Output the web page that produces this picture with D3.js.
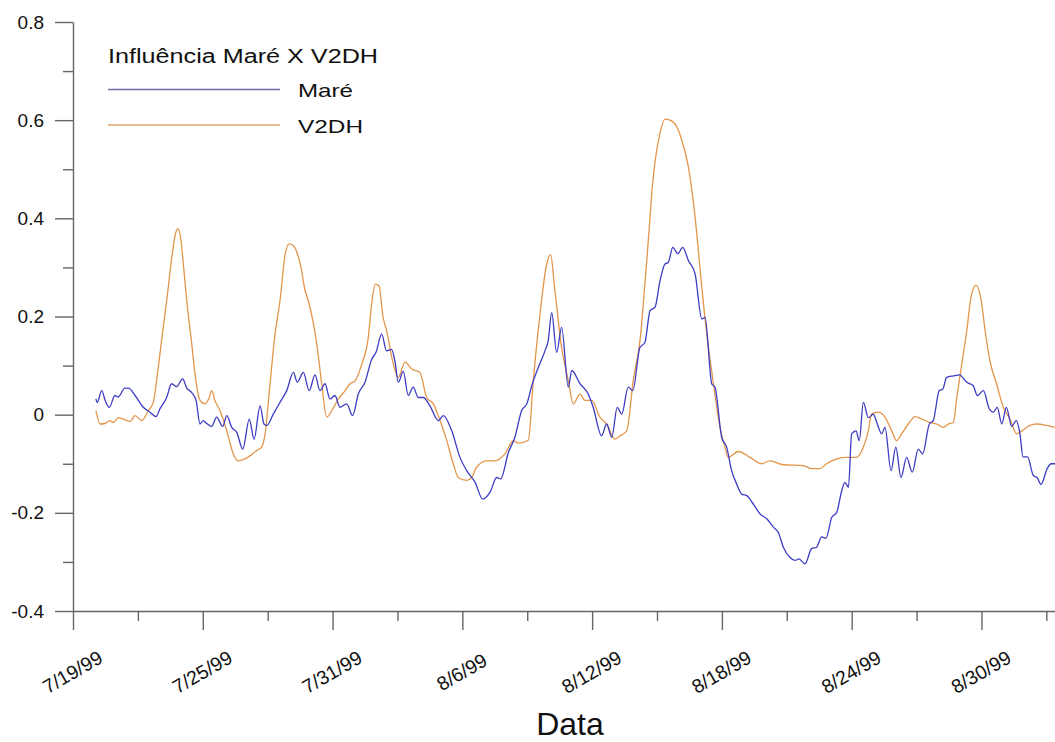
<!DOCTYPE html>
<html>
<head>
<meta charset="utf-8">
<script src="https://cdn.jsdelivr.net/npm/d3@7"></script>
<style>
  body { margin: 0; background: #fff; }
  svg text { font-family: "Liberation Sans", Arial, sans-serif; fill: #111; }
</style>
</head>
<body>
<div id="chart"></div>
<script>
// dias desde 7/19/99 00:00, valor
var mare = [
  [1.06,0.032],[1.12,0.025],[1.33,0.049],[1.48,0.030],[1.68,0.015],[1.94,0.039],[2.09,0.036],
  [2.40,0.054],[2.56,0.054],[2.87,0.039],[3.25,0.015],[3.56,0.005],[3.84,-0.004],[4.02,0.012],
  [4.33,0.035],[4.56,0.063],[4.79,0.057],[5.07,0.073],[5.26,0.054],[5.49,0.045],[5.69,0.029],
  [5.87,-0.019],[6.02,-0.012],[6.18,-0.018],[6.41,-0.024],[6.64,-0.005],[6.92,-0.024],[7.11,-0.002],
  [7.34,-0.026],[7.57,-0.036],[7.85,-0.070],[8.15,-0.009],[8.37,-0.050],[8.65,0.018],[8.83,-0.019],
  [8.96,-0.022],[9.26,0.001],[9.57,0.025],[9.88,0.049],[10.19,0.086],[10.37,0.066],[10.65,0.086],
  [10.92,0.049],[11.19,0.081],[11.42,0.049],[11.65,0.063],[11.88,0.032],[12.11,0.039],[12.34,0.015],
  [12.65,0.022],[12.93,-0.002],[13.19,0.042],[13.50,0.066],[13.81,0.113],[14.01,0.127],[14.27,0.164],
  [14.50,0.130],[14.73,0.133],[14.89,0.107],[15.04,0.066],[15.27,0.088],[15.50,0.039],[15.73,0.056],
  [15.96,0.035],[16.20,0.035],[16.50,0.018],[16.89,-0.012],[17.12,-0.002],[17.51,-0.033],[17.89,-0.087],
  [18.20,-0.114],[18.59,-0.138],[18.94,-0.172],[19.28,-0.158],[19.59,-0.128],[19.77,-0.131],[20.13,-0.077],
  [20.43,-0.046],[20.74,0.008],[20.98,0.022],[21.21,0.059],[21.51,0.096],[21.82,0.130],[21.97,0.151],
  [22.13,0.208],[22.36,0.127],[22.59,0.178],[22.90,0.056],[23.06,0.090],[23.44,0.063],[23.82,0.042],
  [24.05,0.015],[24.44,-0.043],[24.67,-0.019],[24.91,-0.046],[25.16,0.015],[25.37,0.001],[25.67,0.056],
  [25.88,0.049],[26.21,0.137],[26.44,0.147],[26.68,0.212],[26.91,0.219],[27.14,0.273],[27.37,0.307],
  [27.52,0.310],[27.73,0.341],[27.96,0.328],[28.19,0.341],[28.45,0.314],[28.76,0.287],[29.07,0.195],
  [29.22,0.198],[29.53,0.063],[29.68,0.056],[29.99,-0.046],[30.22,-0.066],[30.45,-0.114],[30.68,-0.141],
  [30.92,-0.162],[31.15,-0.165],[31.45,-0.182],[31.76,-0.202],[32.07,-0.212],[32.38,-0.229],[32.61,-0.240],
  [32.84,-0.270],[33.15,-0.291],[33.38,-0.297],[33.56,-0.294],[33.84,-0.304],[34.15,-0.273],[34.38,-0.270],
  [34.61,-0.249],[34.81,-0.252],[35.08,-0.209],[35.31,-0.199],[35.54,-0.155],[35.69,-0.138],[35.85,-0.148],
  [36.00,-0.039],[36.20,-0.033],[36.35,-0.053],[36.54,0.025],[36.77,-0.006],[37.00,0.001],[37.16,-0.016],
  [37.39,-0.039],[37.54,-0.026],[37.82,-0.114],[38.04,-0.066],[38.28,-0.128],[38.54,-0.087],[38.80,-0.117],
  [39.08,-0.070],[39.28,-0.080],[39.59,-0.019],[39.77,-0.012],[40.05,0.049],[40.21,0.052],[40.39,0.076],
  [40.70,0.079],[40.98,0.081],[41.32,0.066],[41.62,0.059],[41.81,0.039],[42.09,0.049],[42.36,0.012],
  [42.55,0.005],[42.73,0.015],[42.94,-0.019],[43.15,0.015],[43.40,-0.024],[43.61,-0.012],[43.78,-0.039],
  [43.92,-0.086],[44.13,-0.086],[44.40,-0.124],[44.57,-0.128],[44.75,-0.142],[45.05,-0.109],[45.22,-0.100],
  [45.40,-0.100]
];

var v2dh = [
  [1.06,0.008],[1.25,-0.019],[1.48,-0.018],[1.71,-0.012],[1.86,-0.016],[2.09,-0.006],[2.33,-0.009],
  [2.64,-0.014],[2.87,-0.002],[3.18,-0.012],[3.48,0.008],[3.71,0.025],[3.94,0.096],[4.17,0.178],
  [4.33,0.232],[4.58,0.324],[4.72,0.365],[4.85,0.379],[4.99,0.356],[5.13,0.293],[5.26,0.232],
  [5.49,0.144],[5.64,0.083],[5.87,0.029],[6.10,0.022],[6.30,0.035],[6.41,0.049],[6.56,0.029],
  [6.80,0.008],[7.11,-0.033],[7.41,-0.080],[7.64,-0.094],[7.95,-0.090],[8.18,-0.084],[8.49,-0.073],
  [8.72,-0.066],[8.88,-0.039],[9.11,0.063],[9.34,0.164],[9.57,0.232],[9.80,0.324],[9.99,0.348],
  [10.17,0.345],[10.36,0.330],[10.52,0.304],[10.73,0.253],[10.88,0.232],[11.27,0.144],[11.50,0.063],
  [11.73,-0.005],[11.96,0.008],[12.27,0.032],[12.58,0.049],[12.81,0.063],[13.04,0.069],[13.35,0.103],
  [13.65,0.157],[13.82,0.230],[13.98,0.266],[14.15,0.262],[14.33,0.200],[14.50,0.171],[14.81,0.103],
  [15.04,0.076],[15.35,0.107],[15.66,0.093],[16.04,0.086],[16.35,0.035],[16.66,0.022],[16.89,-0.002],
  [17.28,-0.053],[17.58,-0.100],[17.81,-0.128],[18.20,-0.134],[18.43,-0.128],[18.66,-0.107],[19.13,-0.094],
  [19.51,-0.094],[19.97,-0.080],[20.36,-0.053],[20.59,-0.058],[21.05,-0.052],[21.28,0.069],[21.59,0.205],
  [21.90,0.307],[22.08,0.326],[22.28,0.253],[22.59,0.137],[22.90,0.069],[23.13,0.022],[23.44,0.042],
  [23.67,0.029],[23.98,0.029],[24.36,-0.005],[24.67,-0.019],[25.06,-0.050],[25.29,-0.043],[25.60,-0.033],
  [25.90,0.069],[26.21,0.150],[26.52,0.310],[26.83,0.485],[27.14,0.574],[27.37,0.602],[27.60,0.600],
  [27.91,0.587],[28.14,0.560],[28.45,0.505],[28.76,0.403],[29.07,0.260],[29.30,0.164],[29.61,0.063],
  [29.91,-0.026],[30.14,-0.066],[30.29,-0.087],[30.76,-0.075],[31.30,-0.087],[31.84,-0.100],[32.22,-0.094],
  [32.84,-0.102],[33.76,-0.104],[34.15,-0.110],[34.54,-0.110],[34.84,-0.100],[35.31,-0.090],[35.77,-0.087],
  [36.23,-0.087],[36.54,-0.066],[36.77,-0.033],[36.92,0.001],[37.23,0.005],[37.54,-0.005],[37.85,-0.033],
  [38.08,-0.053],[38.31,-0.039],[38.62,-0.019],[38.93,-0.004],[39.24,-0.009],[39.62,-0.016],[39.93,-0.019],
  [40.24,-0.026],[40.47,-0.019],[40.70,-0.016],[40.86,0.035],[41.09,0.103],[41.32,0.171],[41.52,0.240],
  [41.75,0.264],[41.98,0.235],[42.17,0.171],[42.39,0.110],[42.70,0.063],[43.01,0.015],[43.32,-0.009],
  [43.63,-0.039],[43.86,-0.033],[44.24,-0.022],[44.55,-0.019],[45.01,-0.022],[45.40,-0.026]
];

var yMajor = [-0.4, -0.2, 0, 0.2, 0.4, 0.6, 0.8];
var yMinor = [-0.3, -0.1, 0.1, 0.3, 0.5, 0.7];
var tickLabels = ["7/19/99", "7/25/99", "7/31/99", "8/6/99", "8/12/99", "8/18/99", "8/24/99", "8/30/99"];
var series = ["Maré", "V2DH"];
var colors = ["#3c3cc4", "#e4954a"];

var W = 1055, H = 742;
var mLeft = 73, mRight = 1055, mTop = 22, mBottom = 611;
var start = new Date(1999, 6, 19);
var day = 864e5;

function toDate(d) { return new Date(start.getTime() + d * day); }

var svg = d3.select("#chart").append("svg")
  .attr("width", W).attr("height", H);

var x = d3.scaleTime()
  .domain([start, toDate(45.4)])
  .range([mLeft, mRight]);

var y = d3.scaleLinear()
  .domain([-0.4, 0.8])
  .range([mBottom, mTop]);

var majorDates = tickLabels.map(function(s, i) { return toDate(i * 6); });
var minorDates = majorDates.map(function(d) { return new Date(d.getTime() + 3 * day); });

// minor ticks first
svg.append("g")
  .attr("transform", "translate(0," + mBottom + ")")
  .call(d3.axisBottom(x).tickValues(minorDates).tickSize(10).tickFormat("").tickSizeOuter(0))
  .call(function(g) { g.select(".domain").remove(); });

svg.append("g")
  .attr("transform", "translate(" + mLeft + ",0)")
  .call(d3.axisLeft(y).tickValues(yMinor).tickSize(10).tickFormat("").tickSizeOuter(0))
  .call(function(g) { g.select(".domain").remove(); });

// X axis
var xAxis = svg.append("g")
  .attr("transform", "translate(0," + mBottom + ")")
  .call(d3.axisBottom(x).tickValues(majorDates).tickSize(19).tickSizeOuter(0)
    .tickFormat(function(d, i) { return tickLabels[i]; }));

xAxis.selectAll("text")
  .attr("y", null).attr("dy", "0.35em")
  .attr("text-anchor", "middle")
  .attr("transform", "translate(-1,61) rotate(-30)")
  .style("font-size", "19.5px");

// Y axis
var yAxis = svg.append("g")
  .attr("transform", "translate(" + mLeft + ",0)")
  .call(d3.axisLeft(y).tickValues(yMajor).tickSize(18).tickPadding(11).tickSizeOuter(0)
    .tickFormat(function(d) { return d === 0 ? "0" : d.toFixed(1); }));

yAxis.selectAll("text").style("font-size", "19px");

svg.selectAll(".domain, .tick line")
  .attr("stroke", "#666").attr("stroke-width", 1.4);

// lines
var line = d3.line()
  .x(function(d) { return x(toDate(d[0])); })
  .y(function(d) { return y(d[1]); })
  .curve(d3.curveMonotoneX);

[v2dh, mare].forEach(function(s, i) {
  svg.append("path")
    .datum(s)
    .attr("fill", "none")
    .attr("stroke", colors[1 - i])
    .attr("stroke-width", 1.3)
    .attr("d", line);
});

// legend
var legend = svg.append("g");
legend.append("text")
  .attr("x", 108).attr("y", 63)
  .attr("textLength", 270).attr("lengthAdjust", "spacingAndGlyphs")
  .style("font-size", "20px")
  .text("Influência Maré X V2DH");

series.forEach(function(name, i) {
  var ly = 89.5 + i * 35.5;
  legend.append("line")
    .attr("x1", 108).attr("x2", 280)
    .attr("y1", ly).attr("y2", ly)
    .attr("stroke", i === 0 ? "#6c6ca8" : "#e0a468").attr("stroke-width", 1.3);
  legend.append("text")
    .attr("x", 298).attr("y", ly + 7.5)
    .attr("textLength", i === 0 ? 55 : 65).attr("lengthAdjust", "spacingAndGlyphs")
    .style("font-size", "19px")
    .text(name);
});

// axis title
svg.append("text")
  .attr("x", 570).attr("y", 735)
  .attr("text-anchor", "middle")
  .style("font-size", "32px")
  .text("Data");
</script>
</body>
</html>
